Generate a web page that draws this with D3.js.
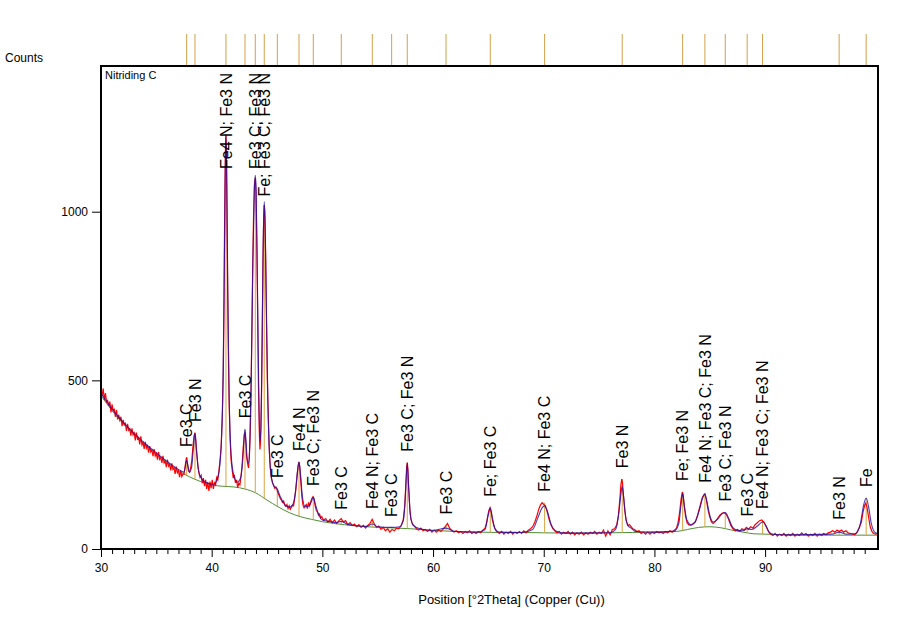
<!DOCTYPE html>
<html><head><meta charset="utf-8">
<script src="https://cdn.jsdelivr.net/npm/d3@7"></script>
<style>body{margin:0;background:#fff} text{font-family:Arial,"Liberation Sans",sans-serif;fill:#000}</style>
</head><body><svg id="c" width="921" height="642"></svg>
<script>
// ---- data ----
const xTicks = [30, 40, 50, 60, 70, 80, 90];
const yTicks = [0, 500, 1000];
const refPos = [37.74, 38.49, 41.29, 43.01, 43.94, 44.75, 45.93, 47.89, 49.18, 51.71, 54.51, 56.26, 57.67, 61.17, 65.17, 70.08, 77.09, 82.55, 84.56, 86.40, 88.38, 89.77, 96.69, 99.13];
const refLabels = ["Fe3 C","Fe3 N","Fe4 N; Fe3 N","Fe3 C","Fe3 C; Fe3 N","Fe; Fe3 C; Fe3 N","Fe3 C","Fe4 N","Fe3 C; Fe3 N","Fe3 C","Fe4 N; Fe3 C","Fe3 C","Fe3 C; Fe3 N","Fe3 C","Fe; Fe3 C","Fe4 N; Fe3 C","Fe3 N","Fe; Fe3 N","Fe4 N; Fe3 C; Fe3 N","Fe3 C; Fe3 N","Fe3 C","Fe4 N; Fe3 C; Fe3 N","Fe3 N","Fe"];
const refHeights = [270, 344, 1228, 355, 1100, 1020, 178, 258, 154, 84, 86, 62, 256, 70, 122, 137, 207, 169, 164, 108, 64, 86, 54, 151];

const background = [[30,455],[31,410],[32,372],[33,340],[34,308],[35,282],[36,256],[37,232],[38,214],[39,200],[40,190],[41,186],[42,184],[43,178],[44,166],[45,145],[46,125],[47,108],[48,96],[49,88],[50,81],[52,72],[54,66],[56,63],[58,60],[60,55],[62,52],[64,50],[66,49],[68,49],[70,48],[72,47],[74,47],[76,48],[78,49],[80,50],[82,52],[83,58],[84,64],[85,66],[86,63],[87,56],[88,50],[89,45],[90,44],[92,42],[94,41],[96,41],[98,41],[100.2,41]];

const calculated = [[30,462],[31,415],[32,376],[33,343],[34,312],[35,285],[36,259],[37,236],[37.5,228],[37.74,262],[38.0,228],[38.2,245],[38.35,300],[38.49,342],[38.62,295],[38.8,235],[39.1,208],[39.6,196],[40.2,192],[40.6,218],[40.85,300],[41.0,450],[41.12,750],[41.22,1100],[41.29,1228],[41.36,1100],[41.46,750],[41.58,450],[41.72,300],[41.95,225],[42.3,198],[42.6,210],[42.8,260],[42.93,330],[43.01,355],[43.1,320],[43.22,265],[43.33,255],[43.45,320],[43.58,520],[43.72,850],[43.85,1060],[43.94,1108],[44.02,1060],[44.13,800],[44.25,480],[44.36,320],[44.45,360],[44.56,620],[44.66,920],[44.75,1030],[44.83,960],[44.95,700],[45.08,430],[45.22,280],[45.4,210],[45.65,185],[45.93,178],[46.2,155],[46.6,132],[47.0,124],[47.3,130],[47.55,165],[47.75,230],[47.89,258],[48.02,225],[48.2,155],[48.45,125],[48.8,128],[49.0,140],[49.18,154],[49.35,135],[49.6,108],[50.0,86],[50.6,82],[51.2,78],[51.71,82],[52.2,74],[53.0,69],[54.0,67],[54.51,74],[55.0,66],[56.26,64],[57.0,66],[57.35,90],[57.52,170],[57.67,255],[57.8,180],[57.95,100],[58.2,70],[58.8,60],[60.0,55],[61.17,62],[62.0,52],[64.0,50],[64.7,58],[64.95,95],[65.17,122],[65.35,95],[65.6,60],[66.0,50],[68.0,49],[69.0,58],[69.5,95],[69.85,122],[70.08,128],[70.35,110],[70.7,70],[71.2,52],[72,47],[76.0,48],[76.5,58],[76.8,110],[77.0,170],[77.09,185],[77.2,160],[77.4,95],[77.6,70],[77.9,62],[78.3,52],[80,50],[81.8,53],[82.2,75],[82.4,130],[82.55,165],[82.7,130],[82.95,85],[83.3,72],[83.7,82],[84.1,120],[84.4,155],[84.56,162],[84.75,140],[85.0,100],[85.3,80],[85.7,88],[86.1,104],[86.4,108],[86.7,92],[87.0,68],[87.4,56],[88.0,54],[88.38,60],[88.8,58],[89.3,68],[89.77,80],[90.1,68],[90.4,48],[90.8,43],[92,42],[96.0,44],[96.69,50],[97.4,44],[98.2,46],[98.6,75],[98.9,130],[99.13,151],[99.35,125],[99.6,75],[99.9,50],[100.2,45]];

const observed = [[30.00,468],[30.10,455],[30.20,476],[30.30,441],[30.40,462],[30.50,436],[30.60,440],[30.70,424],[30.80,437],[30.90,405],[31.00,429],[31.10,410],[31.20,414],[31.30,392],[31.40,412],[31.50,384],[31.60,398],[31.70,382],[31.80,392],[31.90,364],[32.00,383],[32.10,368],[32.20,372],[32.30,350],[32.40,371],[32.50,352],[32.60,356],[32.70,336],[32.80,358],[32.90,338],[33.00,344],[33.10,322],[33.20,345],[33.30,326],[33.40,330],[33.50,310],[33.60,334],[33.70,309],[33.80,316],[33.90,297],[34.00,318],[34.10,299],[34.20,306],[34.30,286],[34.40,305],[34.50,288],[34.60,293],[34.70,275],[34.80,296],[34.90,276],[35.00,283],[35.10,265],[35.20,287],[35.30,266],[35.40,271],[35.50,255],[35.60,276],[35.70,255],[35.80,261],[35.90,243],[36.00,265],[36.10,246],[36.20,251],[36.30,233],[36.40,254],[36.50,236],[36.60,240],[36.70,223],[36.80,244],[36.90,226],[37.00,232],[37.10,213],[37.20,233],[37.30,215],[37.40,222],[37.50,222],[37.60,245],[37.70,268],[37.75,272],[37.80,255],[37.90,232],[38.00,228],[38.10,240],[38.20,262],[38.30,300],[38.40,335],[38.49,345],[38.55,330],[38.65,285],[38.75,248],[38.85,225],[38.95,212],[39.05,218],[39.15,195],[39.25,210],[39.35,186],[39.45,205],[39.55,178],[39.65,198],[39.75,172],[39.85,200],[39.95,180],[40.05,205],[40.15,178],[40.25,196],[40.35,190],[40.45,212],[40.55,205],[40.65,230],[40.75,262],[40.85,300],[40.95,390],[41.05,520],[41.10,680],[41.15,900],[41.20,1080],[41.25,1200],[41.29,1225],[41.33,1180],[41.38,1020],[41.43,820],[41.50,600],[41.58,430],[41.66,330],[41.75,265],[41.85,235],[41.95,210],[42.05,220],[42.15,196],[42.25,205],[42.35,182],[42.45,195],[42.55,190],[42.65,215],[42.75,250],[42.85,300],[42.95,340],[43.01,345],[43.08,320],[43.15,275],[43.25,252],[43.33,240],[43.40,270],[43.48,340],[43.55,450],[43.62,620],[43.70,820],[43.78,980],[43.86,1080],[43.94,1100],[44.00,1060],[44.07,920],[44.15,700],[44.22,500],[44.30,350],[44.36,295],[44.42,320],[44.50,450],[44.57,650],[44.63,850],[44.70,980],[44.75,1020],[44.80,1000],[44.87,880],[44.95,680],[45.03,500],[45.11,400],[45.20,300],[45.30,240],[45.40,210],[45.50,196],[45.60,188],[45.70,180],[45.80,184],[45.90,176],[46.00,165],[46.10,158],[46.20,150],[46.30,145],[46.40,138],[46.50,142],[46.60,130],[46.70,126],[46.80,132],[46.90,120],[47.00,128],[47.10,118],[47.20,124],[47.30,130],[47.40,128],[47.50,150],[47.60,175],[47.70,210],[47.80,245],[47.89,258],[47.95,245],[48.05,200],[48.15,155],[48.25,130],[48.35,122],[48.45,128],[48.55,132],[48.65,120],[48.75,138],[48.85,128],[48.95,140],[49.05,150],[49.15,155],[49.25,148],[49.35,128],[49.45,115],[49.55,110],[49.65,100],[49.75,104],[49.85,92],[49.95,96],[50.1,85],[50.3,90],[50.5,80],[50.7,88],[50.9,78],[51.1,86],[51.3,76],[51.5,84],[51.7,90],[51.9,80],[52.1,84],[52.3,72],[52.5,78],[52.7,70],[52.9,74],[53.1,66],[53.3,72],[53.5,64],[53.7,70],[53.9,62],[54.1,70],[54.3,76],[54.5,88],[54.7,74],[54.9,64],[55.1,68],[55.3,58],[55.5,64],[55.7,54],[55.9,60],[56.1,50],[56.3,58],[56.5,54],[56.7,62],[56.9,60],[57.1,68],[57.3,85],[57.45,130],[57.55,200],[57.62,245],[57.67,256],[57.72,240],[57.8,180],[57.9,120],[58.0,90],[58.1,78],[58.2,72],[58.35,66],[58.5,60],[58.7,56],[58.9,62],[59.1,54],[59.3,58],[59.5,52],[59.7,58],[59.9,50],[60.1,56],[60.3,50],[60.5,56],[60.7,52],[60.9,58],[61.1,66],[61.3,76],[61.5,62],[61.7,54],[61.9,50],[62.1,54],[62.3,48],[62.5,52],[62.7,46],[62.9,52],[63.1,48],[63.3,54],[63.5,46],[63.7,50],[63.9,46],[64.1,52],[64.3,48],[64.5,56],[64.7,62],[64.85,80],[64.95,100],[65.05,115],[65.15,122],[65.25,110],[65.35,88],[65.5,68],[65.65,56],[65.8,50],[66.0,46],[66.2,52],[66.4,44],[66.6,50],[66.8,46],[67.0,52],[67.2,44],[67.4,50],[67.6,46],[67.8,52],[68.0,46],[68.2,54],[68.4,48],[68.6,56],[68.8,60],[69.0,66],[69.2,80],[69.4,100],[69.55,118],[69.7,130],[69.85,137],[70.0,132],[70.15,128],[70.3,112],[70.45,92],[70.6,76],[70.8,62],[71.0,54],[71.2,48],[71.4,52],[71.6,44],[71.8,50],[72.0,46],[72.2,52],[72.4,44],[72.6,50],[72.8,42],[73.0,48],[73.2,44],[73.4,50],[73.6,42],[73.8,48],[74.0,44],[74.2,50],[74.4,46],[74.6,52],[74.8,44],[75.0,50],[75.2,46],[75.4,56],[75.6,38],[75.8,54],[76.0,42],[76.2,58],[76.4,60],[76.6,72],[76.75,100],[76.88,150],[76.97,190],[77.05,207],[77.12,195],[77.2,160],[77.32,115],[77.45,85],[77.6,70],[77.75,72],[77.9,66],[78.05,60],[78.2,58],[78.4,52],[78.6,54],[78.8,46],[79.0,50],[79.2,44],[79.4,50],[79.6,44],[79.8,50],[80.0,46],[80.2,52],[80.4,48],[80.6,50],[80.8,46],[81.0,52],[81.2,48],[81.4,54],[81.6,50],[81.8,56],[82.0,62],[82.15,80],[82.3,115],[82.42,150],[82.52,169],[82.6,158],[82.7,125],[82.82,95],[82.95,78],[83.1,72],[83.3,70],[83.5,74],[83.7,80],[83.9,100],[84.1,125],[84.3,150],[84.45,160],[84.56,164],[84.7,145],[84.85,115],[85.0,95],[85.15,80],[85.3,76],[85.5,82],[85.7,90],[85.9,100],[86.1,106],[86.3,108],[86.5,102],[86.7,88],[86.9,70],[87.1,60],[87.3,54],[87.5,58],[87.7,52],[87.9,60],[88.1,56],[88.3,64],[88.5,58],[88.7,66],[88.9,62],[89.1,72],[89.3,78],[89.5,84],[89.7,86],[89.9,80],[90.1,66],[90.3,52],[90.5,44],[90.7,40],[90.9,46],[91.1,38],[91.3,44],[91.5,40],[91.7,46],[91.9,38],[92.1,44],[92.3,40],[92.5,46],[92.7,38],[92.9,44],[93.1,40],[93.3,48],[93.5,42],[93.7,46],[93.9,38],[94.1,44],[94.3,40],[94.5,46],[94.7,38],[94.9,44],[95.1,40],[95.3,46],[95.5,42],[95.7,48],[95.9,50],[96.1,54],[96.3,50],[96.5,56],[96.7,52],[96.9,56],[97.1,50],[97.3,54],[97.5,48],[97.7,46],[97.9,44],[98.1,42],[98.3,50],[98.5,62],[98.7,80],[98.85,110],[99.0,130],[99.1,136],[99.2,125],[99.35,95],[99.5,65],[99.65,52],[99.8,46],[100.0,44],[100.2,46]];

// ---- layout ----
const L = 101, R = 878, T = 66, B = 549;
const svg = d3.select("#c");
const x = d3.scaleLinear().domain([30, 100.2]).range([L, R]);
const y = d3.scaleLinear().domain([0, 1432]).range([B, T]);

svg.append("defs").append("clipPath").attr("id","clip")
  .append("rect").attr("x", L).attr("y", T).attr("width", R - L).attr("height", B - T);

const plot = svg.append("g").attr("clip-path","url(#clip)");

function bgAt(t){
  const i = d3.bisector(d => d[0]).right(background, t);
  const a = background[Math.max(0, i-1)], b = background[Math.min(background.length-1, i)];
  if (a[0] === b[0]) return a[1];
  return a[1] + (b[1]-a[1])*(t-a[0])/(b[0]-a[0]);
}

// background line
plot.append("path").datum(background)
  .attr("fill","none").attr("stroke","#4f8f35").attr("stroke-width",1)
  .attr("d", d3.line().x(d=>x(d[0])).y(d=>y(d[1])).curve(d3.curveMonotoneX));

// reference sticks in plot
plot.selectAll("line.stick").data(refPos).join("line").attr("class","stick")
  .attr("x1", d=>x(d)).attr("x2", d=>x(d))
  .attr("y1", d=>y(bgAt(d))).attr("y2", (d,i)=>y(refHeights[i]))
  .attr("stroke","#d9a441").attr("stroke-width",1);

// observed
plot.append("path").datum(observed)
  .attr("fill","none").attr("stroke","#ff0000").attr("stroke-width",1.2)
  .attr("d", d3.line().x(d=>x(d[0])).y(d=>y(d[1])));

// calculated
plot.append("path").datum(calculated)
  .attr("fill","none").attr("stroke","#1a10b0").attr("stroke-width",1.1).attr("stroke-opacity",0.8)
  .attr("d", d3.line().x(d=>x(d[0])).y(d=>y(d[1])).curve(d3.curveMonotoneX));

// top reference ticks
svg.selectAll("line.top").data(refPos).join("line").attr("class","top")
  .attr("x1", d=>x(d)).attr("x2", d=>x(d)).attr("y1", 34).attr("y2", T)
  .attr("stroke","#d2a04a").attr("stroke-width",1);

// peak labels
const lab = svg.append("g");
refPos.forEach((p,i)=>{
  const px = x(p);
  let bottom = y(refHeights[i]) - 11;
  const t = lab.append("text").text(refLabels[i])
    .attr("font-size","16px").attr("dy","0.35em");
  const len = t.node().getComputedTextLength();
  if (bottom - len < T + 7) bottom = T + 7 + len;
  t.attr("transform", `translate(${px},${bottom}) rotate(-90)`);
});

// axes
const xMinor = d3.range(31, 100).filter(v => v % 10 !== 0);
svg.append("g").attr("transform",`translate(0,${B})`)
  .call(d3.axisBottom(x).tickValues(xMinor).tickSize(5).tickFormat(""))
  .call(g=>g.select(".domain").remove())
  .call(g=>g.selectAll("line").attr("stroke","#000"));
svg.append("g").attr("transform",`translate(0,${B})`)
  .call(d3.axisBottom(x).tickValues(xTicks).tickSize(8).tickPadding(6).tickFormat(d3.format("d")))
  .call(g=>g.select(".domain").remove())
  .call(g=>g.selectAll("line").attr("stroke","#000"))
  .call(g=>g.selectAll("text").attr("font-size","12px").attr("font-family","Arial, 'Liberation Sans', sans-serif"));
svg.append("g").attr("transform",`translate(${L},0)`)
  .call(d3.axisLeft(y).tickValues(yTicks).tickSize(9).tickPadding(4).tickFormat(d3.format("d")))
  .call(g=>g.select(".domain").remove())
  .call(g=>g.selectAll("line").attr("stroke","#000"))
  .call(g=>g.selectAll("text").attr("font-size","12px").attr("font-family","Arial, 'Liberation Sans', sans-serif"));

// frame
svg.append("rect").attr("x", L).attr("y", T).attr("width", R-L).attr("height", B-T)
  .attr("fill","none").attr("stroke","#000").attr("stroke-width",2);

// texts
svg.append("text").attr("x",5).attr("y",62).attr("font-size","12px").text("Counts");
svg.append("text").attr("x",105).attr("y",79).attr("font-size","11px").text("Nitriding C");
svg.append("text").attr("x",(L+R)/2 + 22).attr("y",604).attr("text-anchor","middle").attr("font-size","13px")
  .text("Position [°2Theta] (Copper (Cu))");
</script>
</body></html>
